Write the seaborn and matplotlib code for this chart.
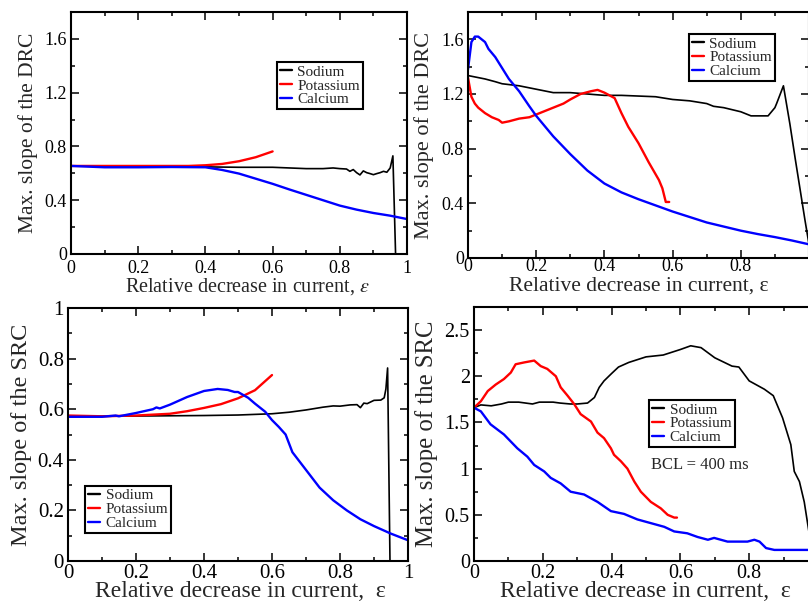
import numpy as np
import pandas as pd
import seaborn as sns
import matplotlib.pyplot as plt
from matplotlib.ticker import MultipleLocator, FuncFormatter

# ---- data ----
series_names = ["Sodium", "Potassium", "Calcium"]
series_colors = ["black", "red", "blue"]

# top left: DRC
drc1_na_x = [0, 0.1, 0.2, 0.3, 0.4, 0.5, 0.6, 0.65, 0.7, 0.75, 0.78, 0.8, 0.82, 0.83, 0.84,
             0.85, 0.86, 0.87, 0.88, 0.89, 0.9, 0.91, 0.92, 0.93, 0.94, 0.95, 0.958, 0.966]
drc1_na_y = [0.655, 0.655, 0.652, 0.65, 0.648, 0.645, 0.645, 0.64, 0.635, 0.635, 0.64, 0.635, 0.632,
             0.615, 0.628, 0.605, 0.588, 0.618, 0.605, 0.598, 0.59, 0.598, 0.605, 0.615, 0.608,
             0.64, 0.73, 0.0]
drc1_k_x = [0, 0.1, 0.2, 0.3, 0.35, 0.4, 0.45, 0.5, 0.55, 0.6]
drc1_k_y = [0.655, 0.655, 0.655, 0.655, 0.655, 0.66, 0.67, 0.69, 0.72, 0.763]
drc1_ca_x = [0, 0.1, 0.2, 0.3, 0.4, 0.45, 0.5, 0.55, 0.6, 0.65, 0.7, 0.75, 0.8, 0.85, 0.9, 0.95, 1.0]
drc1_ca_y = [0.655, 0.645, 0.645, 0.647, 0.645, 0.625, 0.598, 0.56, 0.522, 0.48, 0.44, 0.40,
             0.36, 0.33, 0.305, 0.285, 0.26]

# top right: DRC
drc2_na_x = [0, 0.05, 0.08, 0.1, 0.15, 0.2, 0.25, 0.3, 0.35, 0.4, 0.45, 0.5, 0.55, 0.6, 0.65,
             0.7, 0.72, 0.75, 0.8, 0.83, 0.85, 0.88, 0.9, 0.905, 0.925, 0.944, 0.96, 0.988, 1.0]
drc2_na_y = [1.335, 1.31, 1.29, 1.275, 1.26, 1.235, 1.21, 1.21, 1.2, 1.19, 1.19, 1.185, 1.18,
             1.16, 1.15, 1.13, 1.11, 1.10, 1.07, 1.04, 1.04, 1.04, 1.10, 1.13, 1.26, 0.98,
             0.72, 0.28, 0.1]
drc2_k_x = [0, 0.005, 0.01, 0.02, 0.03, 0.05, 0.07, 0.09, 0.1, 0.12, 0.15, 0.18, 0.2, 0.22,
            0.25, 0.28, 0.3, 0.33, 0.36, 0.38, 0.4, 0.43, 0.45, 0.47, 0.5, 0.53, 0.56, 0.57,
            0.58, 0.59]
drc2_k_y = [1.32, 1.25, 1.18, 1.13, 1.1, 1.06, 1.03, 1.01, 0.99, 1.0, 1.02, 1.03, 1.05, 1.07,
            1.1, 1.13, 1.16, 1.2, 1.22, 1.23, 1.21, 1.17, 1.06, 0.96, 0.84, 0.7, 0.57, 0.51,
            0.41, 0.41]
drc2_ca_x = [0, 0.01, 0.02, 0.03, 0.05, 0.06, 0.08, 0.1, 0.12, 0.15, 0.18, 0.2, 0.25, 0.3,
             0.35, 0.4, 0.45, 0.5, 0.55, 0.6, 0.65, 0.7, 0.75, 0.8, 0.85, 0.9, 0.95, 1.0]
drc2_ca_y = [1.38, 1.58, 1.62, 1.62, 1.58, 1.53, 1.47, 1.39, 1.31, 1.22, 1.11, 1.04, 0.89,
             0.76, 0.64, 0.545, 0.48, 0.43, 0.385, 0.34, 0.30, 0.26, 0.23, 0.2, 0.175, 0.153,
             0.128, 0.1]

# bottom left: SRC
src1_na_x = [0, 0.1, 0.2, 0.3, 0.4, 0.5, 0.6, 0.65, 0.7, 0.75, 0.78, 0.8, 0.83, 0.85, 0.86,
             0.87, 0.88, 0.9, 0.92, 0.93, 0.935, 0.94, 0.947]
src1_na_y = [0.57, 0.572, 0.573, 0.574, 0.575, 0.577, 0.582, 0.588, 0.597, 0.608, 0.613,
             0.612, 0.617, 0.618, 0.606, 0.624, 0.622, 0.635, 0.636, 0.645, 0.68, 0.763, 0.0]
src1_k_x = [0, 0.1, 0.2, 0.3, 0.35, 0.4, 0.45, 0.5, 0.55, 0.6]
src1_k_y = [0.575, 0.572, 0.575, 0.582, 0.592, 0.605, 0.62, 0.643, 0.675, 0.735]
src1_ca_x = [0, 0.05, 0.1, 0.14, 0.15, 0.2, 0.25, 0.26, 0.27, 0.3, 0.35, 0.4, 0.44, 0.47,
             0.49, 0.5, 0.53, 0.55, 0.58, 0.6, 0.62, 0.64, 0.66, 0.7, 0.74, 0.78, 0.82, 0.86,
             0.9, 0.95, 1.0]
src1_ca_y = [0.57, 0.57, 0.57, 0.575, 0.572, 0.585, 0.6, 0.607, 0.603, 0.618, 0.648, 0.672,
             0.68, 0.676, 0.668, 0.668, 0.645, 0.622, 0.59, 0.557, 0.53, 0.5, 0.43, 0.36,
             0.29, 0.24, 0.2, 0.165, 0.138, 0.108, 0.082]

# bottom right: SRC, BCL = 400 ms
src2_na_x = [0, 0.02, 0.05, 0.08, 0.1, 0.13, 0.15, 0.17, 0.19, 0.2, 0.23, 0.25, 0.28, 0.3,
             0.33, 0.35, 0.364, 0.378, 0.4, 0.42, 0.45, 0.5, 0.55, 0.6, 0.63, 0.66, 0.7,
             0.75, 0.77, 0.8, 0.844, 0.87, 0.897, 0.921, 0.931, 0.946, 0.96, 0.972, 0.985]
src2_na_y = [1.66, 1.69, 1.68, 1.7, 1.72, 1.72, 1.71, 1.7, 1.72, 1.72, 1.72, 1.71, 1.70, 1.70,
             1.71, 1.77, 1.88, 1.95, 2.03, 2.1, 2.15, 2.21, 2.23, 2.29, 2.33, 2.31, 2.2,
             2.11, 2.1, 1.95, 1.86, 1.79, 1.55, 1.26, 0.97, 0.86, 0.64, 0.355, 0.05]
src2_k_x = [0, 0.02, 0.04, 0.063, 0.087, 0.107, 0.121, 0.146, 0.175, 0.194, 0.213, 0.238,
            0.252, 0.272, 0.291, 0.31, 0.34, 0.359, 0.378, 0.398, 0.407, 0.427, 0.446,
            0.466, 0.485, 0.514, 0.543, 0.563, 0.582, 0.59]
src2_k_y = [1.66, 1.73, 1.84, 1.91, 1.97, 2.04, 2.13, 2.15, 2.17, 2.11, 2.08, 2.0, 1.88,
            1.79, 1.7, 1.59, 1.51, 1.39, 1.33, 1.22, 1.15, 1.08, 1.0, 0.86, 0.75, 0.64,
            0.57, 0.5, 0.47, 0.47]
src2_ca_x = [0, 0.02, 0.048, 0.087, 0.126, 0.155, 0.175, 0.204, 0.223, 0.252, 0.281, 0.32,
             0.359, 0.398, 0.436, 0.475, 0.514, 0.553, 0.582, 0.62, 0.65, 0.68, 0.698,
             0.737, 0.795, 0.815, 0.83, 0.849, 0.873, 0.97, 1.0]
src2_ca_y = [1.66, 1.62, 1.48, 1.37, 1.22, 1.13, 1.04, 0.97, 0.9, 0.84, 0.75, 0.72, 0.64,
             0.54, 0.51, 0.45, 0.41, 0.37, 0.32, 0.3, 0.26, 0.23, 0.25, 0.21, 0.21, 0.23,
             0.21, 0.14, 0.12, 0.12, 0.12]

DRC_LABEL = "Max. slope of the DRC"
SRC_LABEL = "Max. slope of the SRC"

sns.set_style("ticks")
plt.rcParams['font.family'] = ['Liberation Serif', 'DejaVu Serif']
plt.rcParams['mathtext.fontset'] = 'stix'

fig = plt.figure(figsize=(8.08, 6.02), dpi=100)
W, H = 808.0, 602.0


def make_axes(left, right, top, bottom):
    return fig.add_axes([left / W, 1 - bottom / H, (right - left) / W, (bottom - top) / H])


def tick_fmt(v, pos):
    return f"{round(v, 2):g}"


def tick_fmt_cut(v, pos):
    # the x = 1 label of the right-hand panels falls off the page edge
    return "" if round(v, 2) >= 1 else f"{round(v, 2):g}"


def draw(ax, data, ylim, ymajor, yminor, tick_fs, xpad, xlabel, xlabel_fs, ylabel, ylabel_fs,
         xlab_pos, ylab_pos, leg_loc, leg_anchor, cut_right=False):
    for (xs, ys), name, col in zip(data, series_names, series_colors):
        lw = 1.2 if col == "black" else 1.7
        sns.lineplot(x=xs, y=ys, ax=ax, color=col, linewidth=lw, label=name,
                     estimator=None, sort=False)
    ax.set_xlim(0, 1)
    ax.set_ylim(*ylim)
    ax.xaxis.set_major_locator(MultipleLocator(0.2))
    ax.xaxis.set_minor_locator(MultipleLocator(0.1))
    ax.yaxis.set_major_locator(MultipleLocator(ymajor))
    ax.yaxis.set_minor_locator(MultipleLocator(yminor))
    ax.xaxis.set_major_formatter(FuncFormatter(tick_fmt_cut if cut_right else tick_fmt))
    ax.yaxis.set_major_formatter(FuncFormatter(tick_fmt))
    ax.tick_params(which='both', direction='in', top=True, right=True, width=1.1,
                   labelsize=tick_fs, colors='black', pad=3)
    ax.tick_params(axis='x', pad=xpad)
    ax.tick_params(which='major', length=6)
    ax.tick_params(which='minor', length=3)
    for sp in ax.spines.values():
        sp.set_visible(True)
        sp.set_linewidth(1.5)
        sp.set_color('black')
    ax.set_xlabel(xlabel, fontsize=xlabel_fs)
    ax.set_ylabel(ylabel, fontsize=ylabel_fs)
    ax.xaxis.set_label_coords(*xlab_pos)
    ax.xaxis.label.set_verticalalignment('center')
    ax.yaxis.set_label_coords(*ylab_pos)
    ax.yaxis.label.set_verticalalignment('center')
    leg = ax.legend(loc=leg_loc, bbox_to_anchor=leg_anchor, borderaxespad=0, fontsize=11,
                    frameon=True, fancybox=False, edgecolor='black', framealpha=1,
                    handlelength=0.8, handletextpad=0.35, borderpad=0.2, labelspacing=0)
    leg.get_frame().set_linewidth(1.5)
    for line in leg.get_lines():
        line.set_linewidth(1.7)


ax1 = make_axes(71, 407, 12, 254)
draw(ax1, [(drc1_na_x, drc1_na_y), (drc1_k_x, drc1_k_y), (drc1_ca_x, drc1_ca_y)],
     (0, 1.8), 0.4, 0.2, 13, 4, r"Relative decrease in current, $\varepsilon$", 14.5,
     DRC_LABEL, 15.5, (0.525, -0.136), (-0.128, 0.5), 'upper right', (0.869, 0.793))

ax2 = make_axes(468, 809, 12, 258)
draw(ax2, [(drc2_na_x, drc2_na_y), (drc2_k_x, drc2_k_y), (drc2_ca_x, drc2_ca_y)],
     (0, 1.8), 0.4, 0.2, 13, 0, "Relative decrease in current, ε", 15.5,
     DRC_LABEL, 16, (0.50, -0.112), (-0.129, 0.5), 'upper right', (0.900, 0.911),
     cut_right=True)

ax3 = make_axes(68, 408, 308, 561)
draw(ax3, [(src1_na_x, src1_na_y), (src1_k_x, src1_k_y), (src1_ca_x, src1_ca_y)],
     (0, 1.0), 0.2, 0.1, 15, 2, "Relative decrease in current,  ε", 17,
     SRC_LABEL, 17.5, (0.507, -0.122), (-0.138, 0.5), 'lower left', (0.05, 0.111))

ax4 = make_axes(474, 818, 307, 561)
draw(ax4, [(src2_na_x, src2_na_y), (src2_k_x, src2_k_y), (src2_ca_x, src2_ca_y)],
     (0, 2.75), 0.5, 0.25, 14.5, 2, "Relative decrease in current,  ε", 17,
     SRC_LABEL, 17.8, (0.497, -0.122), (-0.137, 0.5), 'upper left', (0.509, 0.634),
     cut_right=True)
ax4.text(0.515, 0.376, "BCL = 400 ms", transform=ax4.transAxes, fontsize=12,
         ha='left', va='center')

fig.savefig("out.png", dpi=100)
